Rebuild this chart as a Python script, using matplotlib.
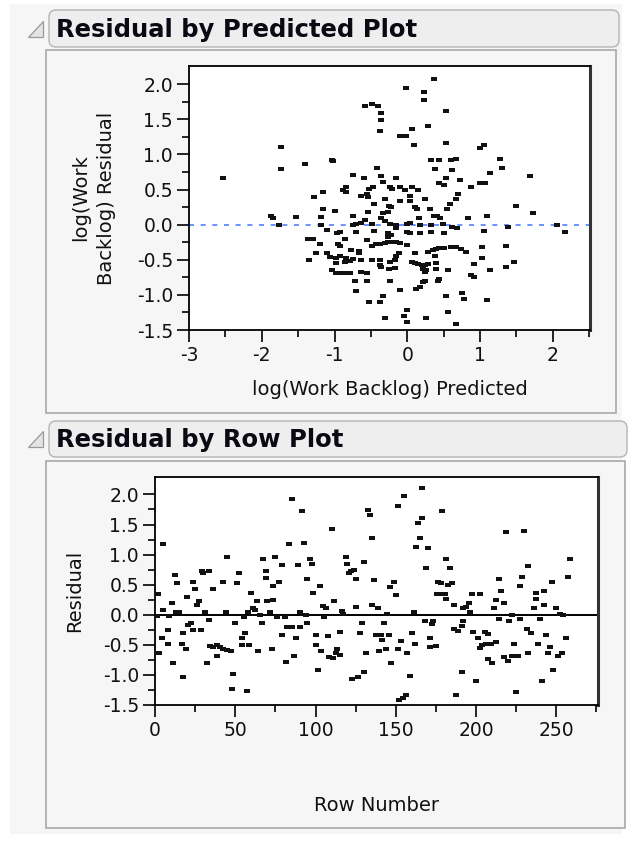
import matplotlib
matplotlib.use("Agg")
import matplotlib.pyplot as plt
from matplotlib.patches import FancyBboxPatch, Rectangle, Polygon
from matplotlib.ticker import MultipleLocator, FixedLocator
import numpy as np

plt.rcParams['font.family'] = ['DejaVu Sans']
plt.rcParams['axes.unicode_minus'] = False

# residual vs predicted, log(Work Backlog) model
pred_x = [-2.53, -1.73, -1.73, -1.40, -1.04, -1.02, -1.16, -1.28, -1.16, -1.00, -1.88, -1.84,
          -1.76, -1.53, -1.18, -1.18, -1.11, -0.96,
          -1.37, -1.30, -1.20, -1.25, -1.35, -1.10, -1.06, -0.98, -0.98, -1.04, -0.98, -0.95,
          0.36, -0.02, 0.23, 0.23, -0.58, -0.49, -0.40, -0.36, -0.36, -0.38, 0.53, 0.29, 0.07,
          -0.10, -0.02, 0.09, 0.53, 1.00, 1.06, 0.33, 0.44, 0.60, 0.67, 0.38, 0.61, 1.27, 1.30,
          1.13, 1.69, -0.41, -0.36, -0.74, -0.60, -0.16, -0.33, 0.53, 0.72, 0.44, 0.50, 1.00,
          1.07, 0.88, -0.84, -0.88, -0.84, -0.52, -0.47, -0.24, -0.21, -0.10, -0.03, 0.06, 0.15,
          -0.63, -0.56, -0.54, 0.04, 0.70, 0.67, -0.30, 0.24, -0.10, 0.04, -0.46, -0.25, -0.22,
          0.13, 0.10, 0.58, 0.54, 0.31, -0.54, -0.26, -0.34, -0.75, 0.36, 0.41, 0.45, 0.84, 1.09,
          1.50, 1.72, -0.36, -0.30, 0.16, -0.58, -0.63, -0.70, -0.75, -0.49, -0.24, -0.15, -0.01,
          0.04, 0.17, 0.33, 0.49, 0.62, 0.68, 1.39, 2.05, 2.17, 1.06, -0.93, -0.70, -0.46, -0.27,
          -0.15, -0.01, 0.04, 0.17, 0.33, 0.50,
          -0.93, -0.93, -0.84, -0.79, -0.75, -0.86, -0.77, -0.66, -0.67, -0.86, -0.63, -0.49,
          -0.38, -0.38, -0.36, -0.24, -0.17, -0.15, -0.12, -0.43, -0.38, -0.31, -0.26, -0.22,
          -0.15, -0.10, -0.01, -0.26, -0.22, -0.56, -0.49, 0.10, 0.28, 0.35, 0.40, 0.44, 0.51,
          0.60, 0.67, 0.74, 0.81, 0.38, 0.06, 0.10, 0.15, 0.20, 0.24, 0.29, 0.22, 0.24, 0.26,
          0.40, 0.40, 0.56, 0.91, 0.88, 0.91, 1.03, 1.03, 1.13, 1.36, 1.36, 1.47, -0.25, -0.17,
          -0.93, -0.86, -0.79, -0.63, -0.56, -0.72, -0.56, -0.24, -0.10, 0.12, 0.17, 0.22, 0.24,
          0.42, 0.44, -0.71, -0.33, -0.38, -0.52, 0.53, 0.75, 0.78, 1.09, -0.30, -0.01, -0.05,
          0.00, 0.26, 0.56, 0.67]
pred_resid = [0.66, 1.11, 0.79, 0.86, 0.92, 0.90, 0.46, 0.39, 0.23, 0.19, 0.13, 0.10,
              -0.01, 0.11, 0.11, 0.00, -0.07, -0.12,
              -0.21, -0.21, -0.27, -0.41, -0.50, -0.40, -0.46, -0.48, -0.55, -0.65, -0.69, -0.27,
              2.07, 1.94, 1.89, 1.77, 1.69, 1.72, 1.69, 1.59, 1.49, 1.34, 1.62, 1.41, 1.36,
              1.26, 1.26, 1.14, 1.17, 1.09, 1.13, 0.92, 0.92, 0.92, 0.93, 0.79, 0.78, 0.93, 0.81,
              0.74, 0.69, 0.81, 0.70, 0.71, 0.66, 0.66, 0.61, 0.66, 0.63, 0.59, 0.56, 0.59,
              0.59, 0.53, 0.53, 0.49, 0.46, 0.51, 0.54, 0.53, 0.51, 0.53, 0.49, 0.54, 0.49,
              0.41, 0.43, 0.40, 0.41, 0.43, 0.36, 0.36, 0.36, 0.34, 0.34, 0.30, 0.26, 0.25,
              0.23, 0.25, 0.30, 0.23, 0.23, 0.18, 0.18, 0.16, 0.13, 0.13, 0.12, 0.09, 0.09, 0.13,
              0.26, 0.16, 0.09, 0.05, 0.09, 0.07, 0.02, 0.01, 0.00, 0.01, 0.01, 0.00, 0.01,
              0.02, 0.00, 0.00, 0.01, -0.03, -0.05, -0.03, 0.00, -0.11, -0.09, -0.11, -0.10, -0.09, -0.12,
              -0.05, -0.10, -0.12, -0.12, -0.10, -0.12,
              -0.30, -0.45, -0.47, -0.52, -0.49, -0.53, -0.36, -0.37, -0.41, -0.20, -0.50, -0.50,
              -0.50, -0.58, -0.60, -0.53, -0.50, -0.44, -0.41, -0.27, -0.27, -0.26, -0.25, -0.25,
              -0.25, -0.26, -0.29, -0.18, -0.15, -0.22, -0.30, -0.40, -0.39, -0.36, -0.35, -0.33, -0.33,
              -0.32, -0.32, -0.34, -0.39, -0.44, -0.53, -0.55, -0.56, -0.58, -0.57, -0.56, -0.63, -0.68, -0.65,
              -0.55, -0.63, -0.65, -0.56, -0.72, -0.75, -0.32, -0.47, -0.65, -0.30, -0.60, -0.53, -0.63, -0.62,
              -0.69, -0.69, -0.69, -0.68, -0.69, -0.80, -0.80, -0.80, -0.93, -0.91, -0.89, -0.82, -0.80,
              -0.80, -0.78, -0.95, -1.02, -1.10, -1.10, -1.02, -0.98, -1.06, -1.07, -1.33, -1.22, -1.30,
              -1.38, -1.33, -1.25, -1.41]

# residual vs row number
row_num = [2.1, 5.2, 5.2, 1.4, 8.9, 10.4, 12.4, 13.9, 15.2, 13.0, 19.7, 23.9, 25.1, 26.4, 27.6,
           29.1, 30.2, 33.9, 31.2, 36.3, 42.5, 45.0, 44.2, 52.5, 51.2, 55.4, 59.6, 58.1, 61.2,
           62.3, 63.6, 65.3, 67.4, 68.9, 68.9, 69.5, 71.6, 73.7, 73.7, 74.9, 77.4, 78.9, 75.7,
           80.9, 83.6, 85.1, 88.8, 91.4, 92.8, 94.9, 96.5, 97.6, 102.8, 98.6, 90.3, 93.8, 104.8,
           106.5, 105.4, 110.4, 111.4,
           116.2, 117.2, 119.0, 119.8, 121.0, 122.4, 123.9, 125.1, 125.1, 130.1, 132.8, 133.8,
           135.0, 135.0, 139.1, 136.4, 146.3, 148.8, 150.0, 144.7, 151.1, 155.1, 161.3, 162.5,
           163.9, 166.6, 165.0, 166.5, 170.1, 168.7, 176.4, 177.9, 182.6, 185.3, 175.4, 178.5,
           180.6, 178.9, 181.2, 183.6, 181.2, 186.2, 192.0, 194.0, 195.7, 197.2, 202.4, 196.1,
           211.3, 212.3, 215.8, 214.1, 217.3, 218.6, 222.6, 227.2, 228.9, 229.9, 232.4, 236.1,
           237.1, 237.6, 242.4, 242.4, 247.5, 249.6, 252.1, 254.2, 257.3, 258.8,
           94.8, 100.3, 107.5, 115.2, 127.7, 128.7, 137.6, 140.8, 146.0, 142.5, 159.9, 168.2,
           173.4, 172.4, 171.3, 186.2, 188.9, 191.0, 192.0, 198.2, 201.3, 205.9, 207.4, 214.6,
           220.8, 227.1, 231.9, 234.4, 239.6, 243.4, 256.3,
           4.2, 7.9, 17.6, 20.3, 22.4, 23.4, 28.6, 33.8, 49.8, 54.0, 56.0, 66.4, 78.9, 82.0,
           85.1, 90.3, 87.8,
           7.8, 2.7, 11.4, 16.6, 19.3, 17.6, 32.6, 34.3, 36.4, 38.4, 40.5, 42.6, 45.1, 47.2,
           38.8, 48.4, 47.7, 57.6, 54.0, 58.8, 64.3, 72.6, 81.5, 86.5, 100.2, 103.7, 101.7,
           108.6, 110.7, 112.8,
           113.5, 115.2, 122.5, 126.6, 130.2, 131.4, 141.2, 139.7, 143.8, 147.3, 151.4, 153.4,
           156.9, 152.1, 154.6, 156.2, 158.8, 161.9, 171.2, 175.0, 191.3, 187.4, 199.9, 202.3,
           203.9, 206.4, 209.6, 212.7, 207.5, 210.2, 217.3, 219.9, 222.7, 226.2, 223.7, 225.2,
           232.4, 238.7, 241.4, 244.9, 246.4, 248.0, 251.1, 253.8]
row_resid = [0.34, 1.17, 0.08, -0.02, -0.02, 0.19, 0.66, 0.52, 0.05, 0.05, 0.29, 0.55, 0.43, 0.16, 0.23,
             0.72, 0.69, 0.72, 0.05, 0.43, 0.55, 0.96, 0.05, 0.69, 0.52, -0.03, 0.37, 0.05, 0.11,
             0.08, 0.23, 0.00, 0.93, 0.73, 0.61, 0.23, 0.05, 0.25, 0.47, 0.96, 0.55, 0.82, -0.03,
             -0.03, 1.17, 1.93, 0.82, 1.72, 1.19, 0.60, 0.93, 0.84, 0.48, 0.37, 0.05, 0.00, 0.14,
             0.11, -0.03, 1.43, 0.23,
             0.06, 0.01, 0.96, 0.84, 0.69, 0.73, 0.75, 0.60, 0.13, 0.87, 1.74, 1.66,
             1.28, 0.17, 0.11, 0.58, 0.46, 0.55, 0.33, 0.02, 1.81, 1.98, 0.04, 1.13,
             1.52, 1.61, 1.28, 2.11, 1.11, 0.78, 0.55, 0.52, 0.50, 0.52, 0.34, 0.34,
             0.34, 1.72, 0.93, 0.78, 0.26, 0.17, 0.11, 0.13, 0.19, 0.34, 0.34, 0.04,
             0.11, 0.25, 0.40, 0.59, 0.20, 1.37, 0.00, 0.48, 0.63, 1.40, 0.81, 0.11,
             0.26, 0.37, 0.40, 0.17, 0.55, 0.11, 0.02, 0.00, 0.63, 0.93,
             -0.13, -0.33, -0.36, -0.28, -0.30, -0.13, -0.33, -0.33, -0.33, -0.13, -0.31, -0.10,
             -0.10, -0.16, -0.39, -0.24, -0.27, -0.18, -0.10, -0.28, -0.39, -0.28, -0.32, -0.07,
             -0.10, -0.07, -0.24, -0.31, -0.07, -0.33, -0.39,
             -0.39, -0.25, -0.31, -0.17, -0.13, -0.25, -0.25, -0.09, -0.13, -0.39, -0.31, -0.13, -0.33, -0.21,
             -0.21, -0.21, -0.39,
             -0.48, -0.63, -0.80, -0.48, -0.57, -1.03, -0.80, -0.52, -0.54, -0.50, -0.54, -0.57, -0.59, -0.61,
             -0.68, -0.98, -1.24, -1.27, -0.50, -0.50, -0.60, -0.57, -0.78, -0.68, -0.50, -0.60, -0.92,
             -0.70, -0.72, -0.63,
             -0.57, -0.67, -1.06, -1.03, -0.95, -0.63, -0.42, -0.60, -0.57, -0.81, -0.57, -0.44,
             -0.63, -1.42, -1.39, -1.33, -1.01, -0.48, -0.54, -0.52, -0.95, -1.33, -1.10, -0.56,
             -0.50, -0.48, -0.48, -0.46, -0.74, -0.81, -0.71, -0.77, -0.68, -0.68, -0.49, -1.29,
             -0.63, -0.48, -1.10, -0.63, -0.53, -0.92, -0.68, -0.63]

W, H = 636, 841
fig = plt.figure(figsize=(W / 100, H / 100), dpi=100, facecolor='white')

# report background, outline boxes and headers (pixel coords)
bg = fig.add_axes([0, 0, 1, 1])
bg.set_xlim(0, W)
bg.set_ylim(H, 0)
bg.axis('off')
bg.add_patch(Rectangle((10, 4), 612, 830, facecolor='#f6f6f6', edgecolor='none'))

def header(y0, y1, x1, title):
    bg.add_patch(FancyBboxPatch((49, y0), x1 - 49, y1 - y0,
                                boxstyle='round,pad=0,rounding_size=7',
                                facecolor='#eeeeee', edgecolor='#b4b4b4', lw=1.0))
    yc = (y0 + y1) / 2
    bg.add_patch(Polygon([(43, yc - 8), (43, yc + 8), (28, yc + 8)], closed=True,
                         facecolor='#e4e4e4', edgecolor='#9a9a9a', lw=0.9))
    bg.text(56, yc + 1, title, fontsize=17.5, fontweight='bold', color='#0a0a14',
            va='center', ha='left')

header(10, 47, 619, 'Residual by Predicted Plot')
bg.add_patch(Rectangle((46, 50), 570, 363, facecolor='#f6f6f6', edgecolor='#a8a8a8', lw=1.2))
header(421, 457, 627, 'Residual by Row Plot')
bg.add_patch(Rectangle((46, 461), 579, 367, facecolor='#f6f6f6', edgecolor='#a8a8a8', lw=1.2))

marker_box = [(-1, -0.6), (1, -0.6), (1, 0.6), (-1, 0.6), (-1, -0.6)]
ink = '#111111'
label_size = 14
tick_size = 13.5

def style_axes(ax):
    ax.set_facecolor('white')
    for side in ['left', 'bottom', 'top']:
        ax.spines[side].set_color('black')
        ax.spines[side].set_linewidth(1.3)
    ax.spines['right'].set_color('#333333')
    ax.spines['right'].set_linewidth(2.2)
    ax.tick_params(which='major', direction='out', length=8.5, width=1.2,
                   labelsize=tick_size, colors='black', labelcolor=ink, pad=3)
    ax.tick_params(which='minor', direction='out', length=5, width=1.2, colors='black')

# top: residual by predicted
ax1 = fig.add_axes([189 / W, 1 - 330 / H, 401 / W, 264 / H])
style_axes(ax1)
ax1.scatter(pred_x, pred_resid, marker=marker_box, s=14, c=ink, linewidths=0, zorder=3)
ax1.axhline(0, color='#4f7fff', lw=1.2, ls=(0, (3, 4)), zorder=2)
ax1.set_xlim(-3, 2.51)
ax1.set_ylim(-1.5, 2.26)
ax1.xaxis.set_major_locator(MultipleLocator(1))
ax1.xaxis.set_minor_locator(FixedLocator(np.arange(-2.5, 2.6, 1)))
ax1.yaxis.set_major_locator(MultipleLocator(0.5))
ax1.yaxis.set_minor_locator(FixedLocator(np.arange(-1.25, 1.8, 0.5)))
ax1.yaxis.set_major_formatter(plt.FormatStrFormatter('%.1f'))
ax1.set_xlabel('log(Work Backlog) Predicted', fontsize=label_size, color=ink, va='center')
ax1.xaxis.set_label_coords(0.5, -0.227)
ax1.set_ylabel('log(Work\nBacklog) Residual', fontsize=label_size, color=ink,
               linespacing=1.45, ha='center', va='center')
ax1.yaxis.set_label_coords(-0.237, 0.5)

# bottom: residual by row
ax2 = fig.add_axes([155 / W, 1 - 705 / H, 443 / W, 228 / H])
style_axes(ax2)
ax2.scatter(row_num, row_resid, marker=marker_box, s=14, c=ink, linewidths=0, zorder=3)
ax2.axhline(0, color='black', lw=1.4, zorder=2)
ax2.set_xlim(0, 276)
ax2.set_ylim(-1.5, 2.29)
ax2.xaxis.set_major_locator(MultipleLocator(50))
ax2.xaxis.set_minor_locator(FixedLocator(np.arange(25, 280, 50)))
ax2.yaxis.set_major_locator(MultipleLocator(0.5))
ax2.yaxis.set_minor_locator(FixedLocator(np.arange(-1.25, 1.8, 0.5)))
ax2.yaxis.set_major_formatter(plt.FormatStrFormatter('%.1f'))
ax2.set_xlabel('Row Number', fontsize=label_size, color=ink, va='center')
ax2.xaxis.set_label_coords(0.5, -0.439)
ax2.set_ylabel('Residual', fontsize=label_size, color=ink, va='center')
ax2.yaxis.set_label_coords(-0.181, 0.5)

fig.savefig('out.png', dpi=100, facecolor='white')
